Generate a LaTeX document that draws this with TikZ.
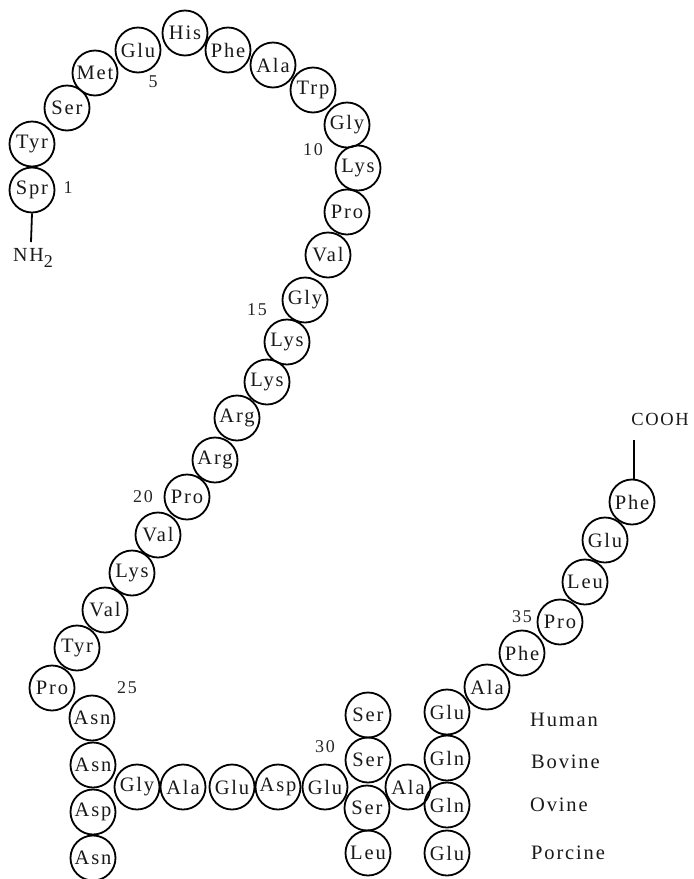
\documentclass[tikz,border=0pt]{standalone}
\usepackage{fontspec}
\setmainfont{Liberation Serif}[LetterSpace=9]
\begin{document}
\begin{tikzpicture}[x=1pt,y=-1pt,
  res/.style={draw, circle, line width=1.8pt, minimum size=45pt, inner sep=0pt,
    font=\fontsize{20.5}{22}\selectfont, text=black!90},
  num/.style={font=\fontsize{18}{20}\selectfont, text=black!85, inner sep=0pt},
  spec/.style={anchor=west, font=\fontsize{20.5}{22}\selectfont, text=black!90, inner sep=0pt},
  bond/.style={line width=1.8pt}]
\useasboundingbox (0,0) rectangle (694,879);
% chain
\node[res] (r1)  at (32,190) {Spr};
\node[res] (r2)  at (32,144) {Tyr};
\node[res] (r3)  at (67,108) {Ser};
\node[res] (r4)  at (95,73)  {Met};
\node[res] (r5)  at (138,50) {Glu};
\node[res] (r6)  at (185,33) {His};
\node[res] (r7)  at (228,50) {Phe};
\node[res] (r8)  at (273,65) {Ala};
\node[res] (r9)  at (313,90) {Trp};
\node[res] (r10) at (347,125) {Gly};
\node[res] (r11) at (358,168) {Lys};
\node[res] (r12) at (347,212) {Pro};
\node[res] (r13) at (328,255) {Val};
\node[res] (r14) at (305,300) {Gly};
\node[res] (r15) at (287,342) {Lys};
\node[res] (r16) at (267,382) {Lys};
\node[res] (r17) at (237,418) {Arg};
\node[res] (r18) at (215,460) {Arg};
\node[res] (r19) at (187,497) {Pro};
\node[res] (r20) at (158,535) {Val};
\node[res] (r21) at (132,573) {Lys};
\node[res] (r22) at (105,610) {Val};
\node[res] (r23) at (77,648)  {Tyr};
\node[res] (r24) at (52,688)  {Pro};
% position 25 variants
\node[res] (r25a) at (92,718) {Asn};
\node[res] (r25b) at (93,765) {Asn};
\node[res] (r25c) at (93,812) {Asp};
\node[res] (r25d) at (93,858) {Asn};
\node[res] (r26) at (137,787) {Gly};
\node[res] (r27) at (183,787) {Ala};
\node[res] (r28) at (232,787) {Glu};
\node[res] (r29) at (278,787) {Asp};
\node[res] (r30) at (325,787) {Glu};
% position 31 variants
\node[res] (r31a) at (368,715) {Ser};
\node[res] (r31b) at (368,760) {Ser};
\node[res] (r31c) at (367,808) {Ser};
\node[res] (r31d) at (368,853) {Leu};
\node[res] (r32) at (408,787) {Ala};
% position 33 variants
\node[res] (r33a) at (447,712) {Glu};
\node[res] (r33b) at (447,758) {Gln};
\node[res] (r33c) at (447,805) {Gln};
\node[res] (r33d) at (447,853) {Glu};
\node[res] (r34) at (487,687) {Ala};
\node[res] (r35) at (522,653) {Phe};
\node[res] (r36) at (560,622) {Pro};
\node[res] (r37) at (585,582) {Leu};
\node[res] (r38) at (605,540) {Glu};
\node[res] (r39) at (632,502) {Phe};
% termini
\node[inner sep=0pt, font=\fontsize{20}{22}\selectfont, text=black!90] (nh) at (33,258) {NH\raisebox{-0.7ex}{\fontsize{18}{20}\selectfont 2}};
\coordinate (nhtop) at (31,242);
\draw[bond] (r1.south) -- (nhtop);
\node[inner sep=0pt, font=\fontsize{18.5}{20}\selectfont, text=black!90] (cooh) at (660,419) {COOH};
\coordinate (coohbot) at (634,440);
\draw[bond] (r39.north) ++(2,0) coordinate (p39) (p39) -- (coohbot);
% numbers
\node[num] (n1)  at (68,188) {1};
\node[num] (n5)  at (153,82) {5};
\node[num] (n10) at (313,150) {10};
\node[num] (n15) at (257,310) {15};
\node[num] (n20) at (143,497) {20};
\node[num] (n25) at (127,688) {25};
\node[num] (n30) at (325,747) {30};
\node[num] (n35) at (522,617) {35};
% species
\node[spec] (hum) at (530,720) {Human};
\node[spec] (bov) at (531,762) {Bovine};
\node[spec] (ovi) at (530,805) {Ovine};
\node[spec] (por) at (531,853) {Porcine};
\end{tikzpicture}
\end{document}
